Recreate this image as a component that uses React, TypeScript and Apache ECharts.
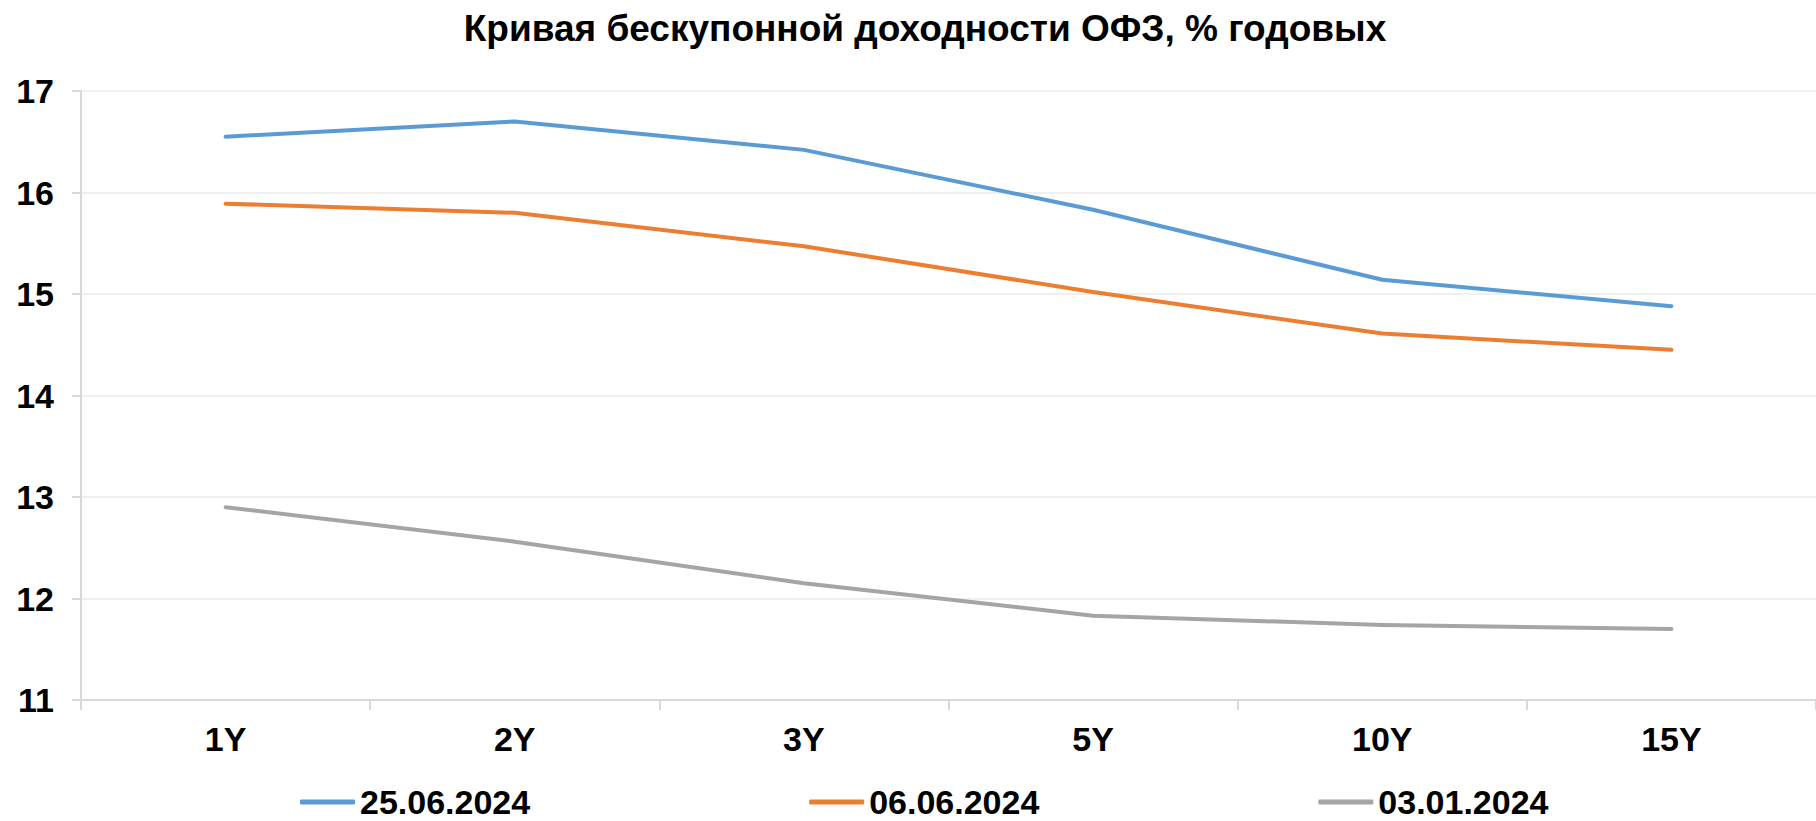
import React, { useEffect, useRef } from "react";
import * as echarts from "echarts";

const titleText = "Кривая бескупонной доходности ОФЗ, % годовых";
const categories = ["1Y", "2Y", "3Y", "5Y", "10Y", "15Y"];
const seriesNames = ["25.06.2024", "06.06.2024", "03.01.2024"];
const seriesColors = ["#5b9bd5", "#ed7d31", "#a5a5a5"];
const values2506 = [16.55, 16.7, 16.42, 15.83, 15.14, 14.88];
const values0606 = [15.89, 15.8, 15.47, 15.02, 14.61, 14.45];
const values0301 = [12.9, 12.56, 12.15, 11.83, 11.74, 11.7];
const yMin = 11;
const yMax = 17;
const yStep = 1;

const FONT = "'Liberation Sans', Arial, sans-serif";

export default function App() {
  const ref = useRef<HTMLDivElement>(null);
  useEffect(() => {
    if (!ref.current) return;
    const chart = echarts.init(ref.current, null, { renderer: "svg" });
    const allValues = [values2506, values0606, values0301];
    chart.setOption({
      animation: false,
      backgroundColor: "#ffffff",
      title: {
        text: titleText,
        left: 920,
        textAlign: "center",
        top: 5,
        textStyle: {
          fontFamily: FONT,
          fontWeight: "bold",
          fontSize: 37,
          color: "#000000",
        },
      },
      legend: {
        left: 295,
        top: 780,
        itemWidth: 55,
        itemHeight: 5,
        itemGap: 279,
        icon: "roundRect",
        textStyle: {
          fontFamily: FONT,
          fontWeight: "bold",
          fontSize: 34,
          color: "#000000",
          lineHeight: 34,
        },
        data: seriesNames.map((n, i) => ({
          name: n,
          itemStyle: { color: seriesColors[i] },
        })),
      },
      grid: {
        left: 81,
        top: 91,
        width: 1740,
        height: 609,
        containLabel: false,
      },
      xAxis: {
        type: "category",
        data: categories,
        boundaryGap: true,
        axisLine: { show: true, lineStyle: { color: "#d9d9d9", width: 2 } },
        axisTick: {
          show: true,
          length: 10,
          alignWithLabel: false,
          lineStyle: { color: "#d9d9d9", width: 2 },
        },
        axisLabel: {
          margin: 22,
          fontFamily: FONT,
          fontWeight: "bold",
          fontSize: 34,
          color: "#000000",
        },
        splitLine: { show: false },
      },
      yAxis: {
        type: "value",
        min: yMin,
        max: yMax,
        interval: yStep,
        axisLine: { show: true, lineStyle: { color: "#d9d9d9", width: 2 } },
        axisTick: {
          show: true,
          length: 9,
          lineStyle: { color: "#d9d9d9", width: 2 },
        },
        axisLabel: {
          margin: 27,
          fontFamily: FONT,
          fontWeight: "bold",
          fontSize: 34,
          color: "#000000",
        },
        splitLine: { show: true, lineStyle: { color: "#f0f0f0", width: 2 } },
      },
      series: seriesNames.map((n, i) => ({
        name: n,
        type: "line",
        data: allValues[i],
        symbol: "none",
        color: seriesColors[i],
        lineStyle: { color: seriesColors[i], width: 4, cap: "round", join: "round" },
      })),
    });
    return () => chart.dispose();
  }, []);
  return (
    <div
      ref={ref}
      style={{
        position: "fixed",
        left: 0,
        top: 0,
        width: 1816,
        height: 821,
        background: "#ffffff",
      }}
    />
  );
}
